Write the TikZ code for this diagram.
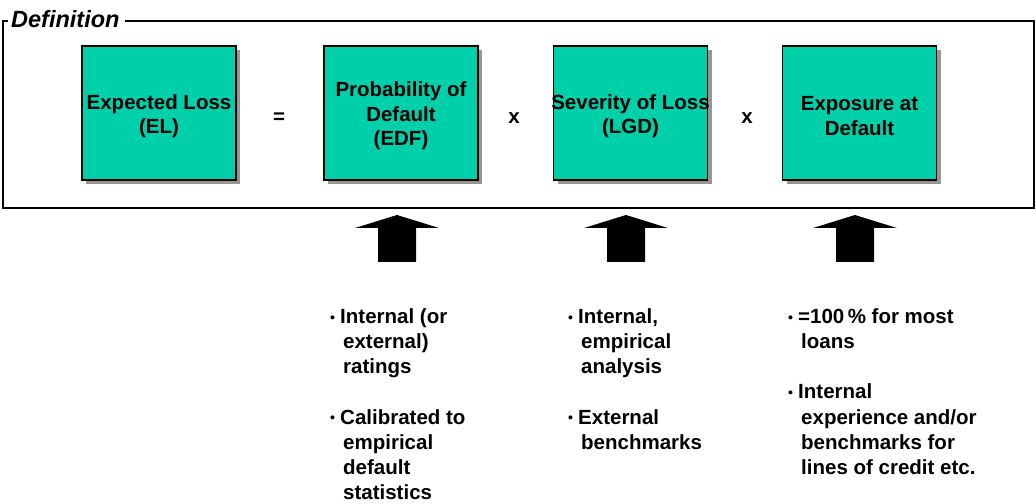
\documentclass[tikz,border=0pt]{standalone}
\usepackage{fontspec}
\setmainfont{Liberation Sans}
\usetikzlibrary{shadows}
\definecolor{boxteal}{RGB}{0,208,170}
\definecolor{shadowgray}{RGB}{150,150,150}
\tikzset{
  factor/.style={draw=black, line width=1.6bp, fill=boxteal,
    minimum width=154bp, minimum height=134bp, inner sep=0pt,
    drop shadow={shadow xshift=4bp, shadow yshift=-4bp, fill=shadowgray, opacity=1}},
  factortext/.style={align=center, inner sep=0pt,
    font=\fontsize{20.5bp}{24.5bp}\selectfont\bfseries},
  operator/.style={inner sep=0pt, font=\fontsize{20.5bp}{24bp}\selectfont\bfseries},
  notes/.style={anchor=base west, inner sep=0pt,
    font=\fontsize{20.5bp}{25bp}\selectfont\bfseries},
  blockarrow/.style={fill=black},
  frame/.style={draw=black, line width=1.2bp}
}
% one bulleted entry; continuation lines hang under the text
\newcommand{\bulletitem}[1]{\hangindent=13bp\hangafter=1\noindent\makebox[10bp][l]{\fontsize{14bp}{25bp}\selectfont\raisebox{1.5bp}{•}}#1\par}
\newcommand{\notecolumn}[1]{\parbox[t]{230bp}{\fontsize{20.5bp}{25bp}\selectfont\bfseries #1}}
\begin{document}
\begin{tikzpicture}[x=1bp, y=-1bp]
\useasboundingbox (0,0) rectangle (1036,504);

% heading and surrounding frame
\node[anchor=west, inner sep=0pt, font=\fontsize{23.5bp}{27bp}\selectfont\bfseries\itshape] (def) at (11,19) {Definition};
\draw[frame] (8,21) -- (3,21) -- (3,208) -- (1034,208) -- (1034,21) -- (125,21);

% the four factors
\node[factor] (el)  at (159,113) {};
\node[factor] (pd)  at (401,113) {};
\node[factor] (lgd) at (630.5,113) {};
\node[factor] (ead) at (859.5,113) {};

\node[factortext] (el-t)  at (159,116)   {Expected Loss\\(EL)};
\node[factortext] (pd-t)  at (401,116)   {Probability of\\Default\\(EDF)};
\node[factortext] (lgd-t) at (630.5,116) {Severity of Loss\\(LGD)};
\node[factortext] (ead-t) at (859.5,116) {Exposure at\\Default};

\node[operator] (eq)  at (279,118) {=};
\node[operator] (x-1) at (514,118) {x};
\node[operator] (x-2) at (747,118) {x};

% block arrows pointing up to the frame
\foreach \cx/\nm in {397/pd-arrow, 626/lgd-arrow, 855/ead-arrow} {
  \coordinate (\nm) at (\cx,215);
  \fill[blockarrow] (\nm) -- ++(42,13) -- ++(-23,0) -- ++(0,34) -- ++(-38,0)
    -- ++(0,-34) -- ++(-23,0) -- cycle;
}

% sources for each factor
\node[notes] (pd-n) at (330,324) {\notecolumn{%
  \bulletitem{Internal (or\newline external)\newline ratings}\vspace{25bp}
  \bulletitem{Calibrated to\newline empirical\newline default\newline statistics}}};
\node[notes] (lgd-n) at (568,324) {\notecolumn{%
  \bulletitem{Internal,\newline empirical\newline analysis}\vspace{25bp}
  \bulletitem{External\newline benchmarks}}};
\node[notes] (ead-n) at (788,324) {\notecolumn{%
  \bulletitem{=100\,\% for most\newline loans}\vspace{25bp}
  \bulletitem{Internal\newline experience and/or\newline benchmarks for\newline lines of credit etc.}}};
\end{tikzpicture}
\end{document}
